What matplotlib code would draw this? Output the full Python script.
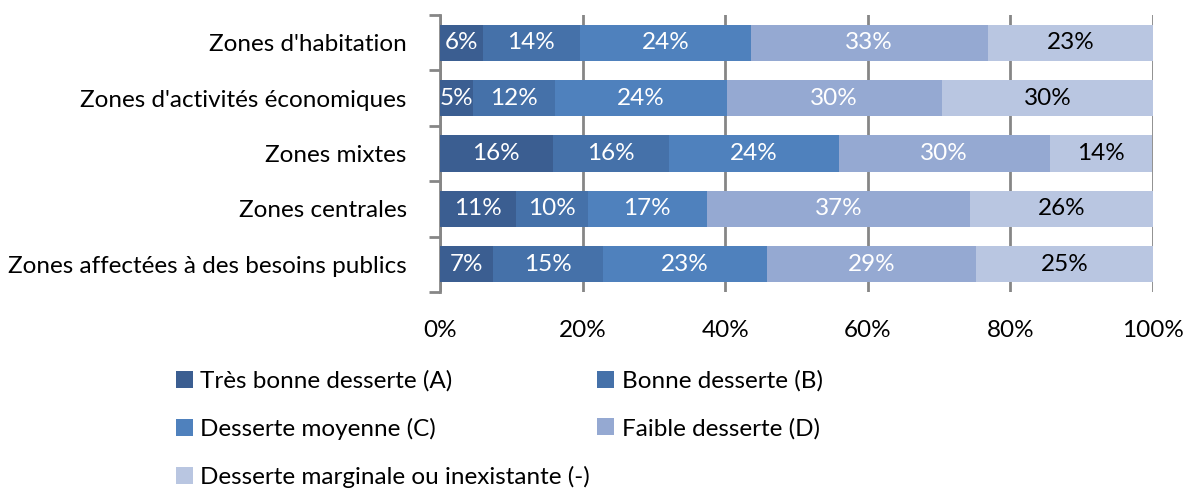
import matplotlib
matplotlib.use('Agg')
import matplotlib.pyplot as plt
import numpy as np

plt.rcParams['font.family'] = ['Lato', 'DejaVu Sans']

# data (percent of each zone type)
categories = ["Zones d'habitation",
              "Zones d'activités économiques",
              "Zones mixtes",
              "Zones centrales",
              "Zones affectées à des besoins publics"]
series_names = ['Très bonne desserte (A)',
                'Bonne desserte (B)',
                'Desserte moyenne (C)',
                'Faible desserte (D)',
                'Desserte marginale ou inexistante (-)']
tres_bonne = [6.0, 4.6, 15.8, 10.6, 7.4]
bonne = [13.6, 11.6, 16.3, 10.1, 15.4]
moyenne = [24.0, 24.0, 23.8, 16.7, 23.0]
faible = [33.2, 30.2, 29.6, 37.0, 29.4]
marginale = [23.2, 29.6, 14.4, 25.6, 24.8]

colors = ['#3b5e91', '#4571a9', '#4f81bd', '#95a9d2', '#b9c6e1']
text_colors = ['white', 'white', 'white', 'white', 'black']
fs = 17.5

fig = plt.figure(figsize=(11.85, 4.92), dpi=100)
ax = fig.add_axes([0.3713, 0.4065, 0.6017, 0.563])

y = np.arange(len(categories))
left = np.zeros(len(categories))
bars = []
for vals, col, tc, name in zip([tres_bonne, bonne, moyenne, faible, marginale],
                               colors, text_colors, series_names):
    vals = np.array(vals)
    b = ax.barh(y, vals, left=left, height=0.65, color=col, label=name, zorder=3)
    bars.append(b)
    for yi, (l, v) in enumerate(zip(left, vals)):
        ax.text(l + v / 2, yi, f'{v:.0f}%', ha='center', va='center',
                color=tc, fontsize=fs, zorder=4)
    left = left + vals

ax.set_xlim(0, 100)
ax.set_ylim(len(categories) - 0.5, -0.5)
ax.set_xticks(np.arange(0, 101, 20))
ax.set_xticklabels([f'{t}%' for t in range(0, 101, 20)], fontsize=fs)
ax.set_yticks(y)
ax.set_yticklabels(categories, fontsize=fs)
ax.set_yticks(np.arange(-0.5, len(categories), 1), minor=True)
ax.tick_params(axis='y', which='major', length=0, pad=24)
ax.tick_params(axis='y', which='minor', length=8, width=2, color='#868686')
ax.tick_params(axis='x', length=0, pad=20)
ax.grid(axis='x', color='#868686', linewidth=2, zorder=0)
for s in ['top', 'right', 'bottom']:
    ax.spines[s].set_visible(False)
ax.spines['left'].set_color('#868686')
ax.spines['left'].set_linewidth(2)

order = [0, 2, 4, 1, 3]
handles = [bars[i] for i in order]
labels = [series_names[i] for i in order]
fig.legend(handles, labels, ncol=2, loc='upper left', bbox_to_anchor=(0.13, 0.292),
           frameon=False, fontsize=fs, handlelength=0.7, handleheight=0.7,
           handletextpad=0.3, columnspacing=0.3, labelspacing=1.08)

fig.savefig('out.png', dpi=100)
